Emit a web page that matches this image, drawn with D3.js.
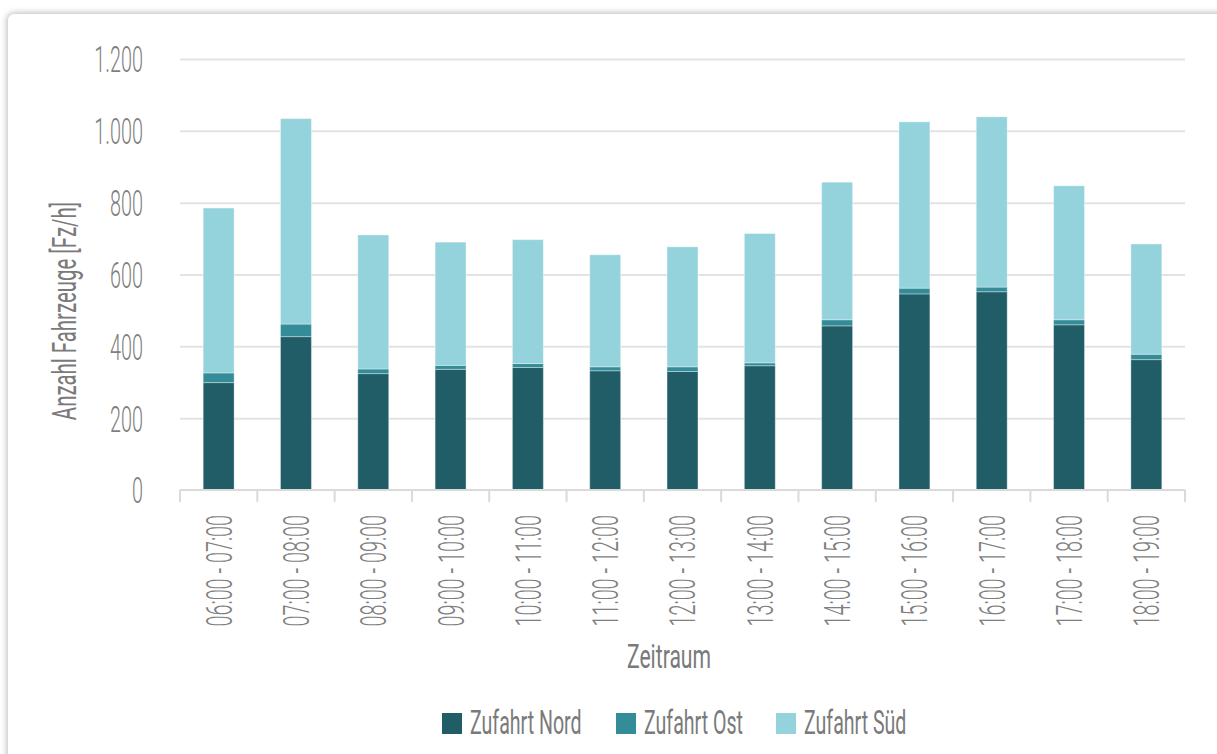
<!DOCTYPE html>
<html>
<head>
<meta charset="utf-8">
<script src="https://cdn.jsdelivr.net/npm/d3@7"></script>
<style>
  html, body { margin: 0; padding: 0; background: #ffffff; }
  svg { display: block; }
  text { font-family: Roboto, "Noto Sans", sans-serif; }
</style>
</head>
<body>
<svg id="chart" width="1217" height="754"></svg>
<script>
// Hourly traffic counts per approach (vehicles per hour)
const categories = ["06:00 - 07:00", "07:00 - 08:00", "08:00 - 09:00", "09:00 - 10:00",
  "10:00 - 11:00", "11:00 - 12:00", "12:00 - 13:00", "13:00 - 14:00", "14:00 - 15:00",
  "15:00 - 16:00", "16:00 - 17:00", "17:00 - 18:00", "18:00 - 19:00"];
const zufahrtNord = [299, 427, 324, 336, 341, 332, 330, 346, 457, 546, 552, 460, 363];
const zufahrtOst  = [27, 35, 13, 11, 11, 11, 13, 8, 17, 16, 13, 14, 15];
const zufahrtSued = [459, 572, 373, 343, 345, 312, 334, 360, 383, 463, 474, 373, 307];
const seriesNames = ["Zufahrt Nord", "Zufahrt Ost", "Zufahrt Süd"];
const seriesColors = ["#215d66", "#338c98", "#95d3dc"];
const yTicks = [0, 200, 400, 600, 800, 1000, 1200];
const yTitle = "Anzahl Fahrzeuge [Fz/h]";
const xTitle = "Zeitraum";

const svg = d3.select("#chart");
const W = 1217, H = 754;
const plot = { left: 180, right: 1185, top: 59, bottom: 490 };
const SX = 0.55;           // horizontal condensing of tick labels
const TICK_FS = 36;

// card with soft shadow
const defs = svg.append("defs");
const f = defs.append("filter").attr("id", "shadow")
  .attr("x", "-5%").attr("y", "-5%").attr("width", "110%").attr("height", "110%");
f.append("feDropShadow").attr("dx", -1).attr("dy", -1).attr("stdDeviation", 3)
  .attr("flood-color", "#000").attr("flood-opacity", 0.28);
svg.append("rect").attr("x", 8).attr("y", 14).attr("width", W + 40).attr("height", H + 40)
  .attr("rx", 7).attr("fill", "#fff").attr("filter", "url(#shadow)");

const de = d3.formatLocale({ decimal: ",", thousands: ".", grouping: [3], currency: ["", " €"] });
const fmt = de.format(",d");

const x = d3.scaleBand().domain(categories).range([plot.left, plot.right])
  .paddingInner(0.6).paddingOuter(0.3);
const y = d3.scaleLinear().domain([0, 1200]).range([plot.bottom, plot.top]);

// gridlines + y labels
const yAxis = svg.append("g").attr("transform", `translate(${plot.left},0)`)
  .call(d3.axisLeft(y).tickValues(yTicks).tickSize(-(plot.right - plot.left)).tickFormat(fmt));
yAxis.select(".domain").remove();
yAxis.selectAll(".tick line").attr("stroke", "#e3e3e3").attr("stroke-width", 2)
  .filter(d => d === 0).remove();
yAxis.selectAll(".tick text")
  .attr("x", -37 / SX).attr("dy", "0.36em")
  .attr("transform", `scale(${SX},1)`)
  .attr("fill", "#7f7f7f").attr("font-size", TICK_FS).attr("font-weight", 300)
  .attr("font-family", "Roboto, sans-serif");

// stacked bars
const rows = categories.map((c, i) => ({ cat: c, nord: zufahrtNord[i], ost: zufahrtOst[i], sued: zufahrtSued[i] }));
const stack = d3.stack().keys(["nord", "ost", "sued"])(rows);
svg.append("g").selectAll("g").data(stack).join("g")
  .attr("fill", (d, i) => seriesColors[i])
  .selectAll("rect").data(d => d).join("rect")
  .attr("x", d => x(d.data.cat))
  .attr("width", x.bandwidth())
  .attr("y", d => y(d[1]))
  .attr("height", d => y(d[0]) - y(d[1]))
  .attr("stroke", "rgba(255,255,255,0.35)").attr("stroke-width", 1);

// category axis: baseline and boundary ticks
const step = x.step();
const xg = svg.append("g");
xg.append("line").attr("x1", plot.left).attr("x2", plot.right)
  .attr("y1", y(0)).attr("y2", y(0)).attr("stroke", "#dadada").attr("stroke-width", 2);
xg.selectAll("line.b").data(d3.range(categories.length + 1)).join("line").attr("class", "b")
  .attr("x1", i => plot.left + i * step).attr("x2", i => plot.left + i * step)
  .attr("y1", y(0)).attr("y2", y(0) + 12).attr("stroke", "#dadada").attr("stroke-width", 2);
xg.selectAll("text").data(categories).join("text")
  .attr("transform", d => `translate(${x(d) + x.bandwidth() / 2},${y(0)}) rotate(-90) scale(${SX},1)`)
  .attr("x", -25 / SX).attr("dy", "0.36em").attr("text-anchor", "end")
  .attr("fill", "#7f7f7f").attr("font-size", TICK_FS).attr("font-weight", 300)
  .text(d => d);

// axis titles
svg.append("text")
  .attr("transform", `translate(76,311) rotate(-90) scale(0.6,1)`)
  .attr("text-anchor", "middle").attr("fill", "#7a7a7a")
  .attr("font-size", 34).text(yTitle);
svg.append("text")
  .attr("transform", `translate(669,668) scale(0.64,1)`)
  .attr("text-anchor", "middle").attr("fill", "#7a7a7a")
  .attr("font-size", 33).text(xTitle);

// legend
const legendX = [442, 616, 776];
const lg = svg.append("g").selectAll("g").data(seriesNames).join("g")
  .attr("transform", (d, i) => `translate(${legendX[i]},713)`);
lg.append("rect").attr("width", 20).attr("height", 21).attr("fill", (d, i) => seriesColors[i]);
lg.append("text").attr("transform", `translate(28,20.5) scale(0.576,1)`)
  .attr("fill", "#7a7a7a").attr("font-size", 34).text(d => d);
</script>
</body>
</html>
